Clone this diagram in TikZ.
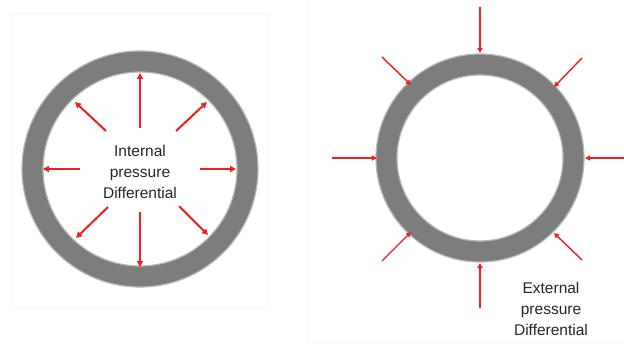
\documentclass[tikz,border=0pt]{standalone}
\usepackage{fontspec}
\setmainfont{Liberation Sans}
\usetikzlibrary{arrows.meta}
\definecolor{pipegray}{RGB}{125,125,125}
\definecolor{forcered}{RGB}{240,30,30}
\definecolor{framegray}{RGB}{246,246,246}
\begin{document}
\begin{tikzpicture}[x=1pt,y=-1pt,
  pipe/.style={fill=pipegray, even odd rule},
  halo/.style={draw=pipegray!55, line width=1.2pt},
  inforce/.style={draw=forcered, line width=2pt, -{Triangle[length=6pt,width=6pt]}},
  exforce/.style={draw=forcered, line width=1.4pt, -{Triangle[length=5pt,width=5pt]}},
  label/.style={fill=white, align=center, font=\fontsize{15.5}{21}\selectfont, text=black!85, inner sep=0pt},
  frame/.style={draw=framegray, line width=0.8pt}]
\useasboundingbox (0,0) rectangle (624,345);
\fill[white] (0,0) rectangle (624,345);
% faint panel frames
\draw[frame] (12,13) rectangle (267,307);
\draw[frame] (308,0) -- (308,342) -- (624,342);

% ---------- left pipe: internal pressure ----------
\coordinate (cl) at (140,169);
\fill[pipe] (cl) circle (118) (cl) circle (97);
\draw[halo] (cl) circle (97);
\draw[halo] (cl) circle (118);

\coordinate (lu0) at (140,128); \coordinate (lu1) at (140,73);
\coordinate (ld0) at (140,212); \coordinate (ld1) at (140,267);
\coordinate (ll0) at (80,169);  \coordinate (ll1) at (43,169);
\coordinate (lr0) at (200,169); \coordinate (lr1) at (236,169);
\coordinate (lul0) at (106,131); \coordinate (lul1) at (75,102);
\coordinate (lur0) at (176,131); \coordinate (lur1) at (207,102);
\coordinate (lll0) at (108,207); \coordinate (lll1) at (76,238);
\coordinate (llr0) at (179,206); \coordinate (llr1) at (208,235);
\foreach \p in {lu,ld,ll,lr,lul,lur,lll,llr}
  \draw[inforce] (\p0) -- (\p1);

\node[label, minimum width=116pt, minimum height=73pt] (intlabel) at (140,169) {};
\node[label, fill=none] (inttext) at (140,172) {Internal\\pressure\\Differential};

% ---------- right pipe: external pressure ----------
\coordinate (cr) at (480,158);
\fill[pipe] (cr) circle (104) (cr) circle (83);
\draw[halo] (cr) circle (83);
\draw[halo] (cr) circle (104);

\coordinate (ru0) at (480,7);   \coordinate (ru1) at (480,53);
\coordinate (rd0) at (480,308); \coordinate (rd1) at (480,263);
\coordinate (rl0) at (332,158); \coordinate (rl1) at (377,158);
\coordinate (rr0) at (624,158); \coordinate (rr1) at (585,158);
\coordinate (rul0) at (382,57);  \coordinate (rul1) at (411,85);
\coordinate (rur0) at (582,58);  \coordinate (rur1) at (554,87);
\coordinate (rll0) at (382,261); \coordinate (rll1) at (411,232);
\coordinate (rlr0) at (582,260); \coordinate (rlr1) at (554,233);
\foreach \p in {ru,rd,rl,rr,rul,rur,rll,rlr}
  \draw[exforce] (\p0) -- (\p1);

\node[label, minimum width=98pt, minimum height=72pt, anchor=north] (extlabel) at (561,268) {};
\node[label, fill=none] (exttext) at (551,309) {External\\pressure\\Differential};
\end{tikzpicture}
\end{document}
